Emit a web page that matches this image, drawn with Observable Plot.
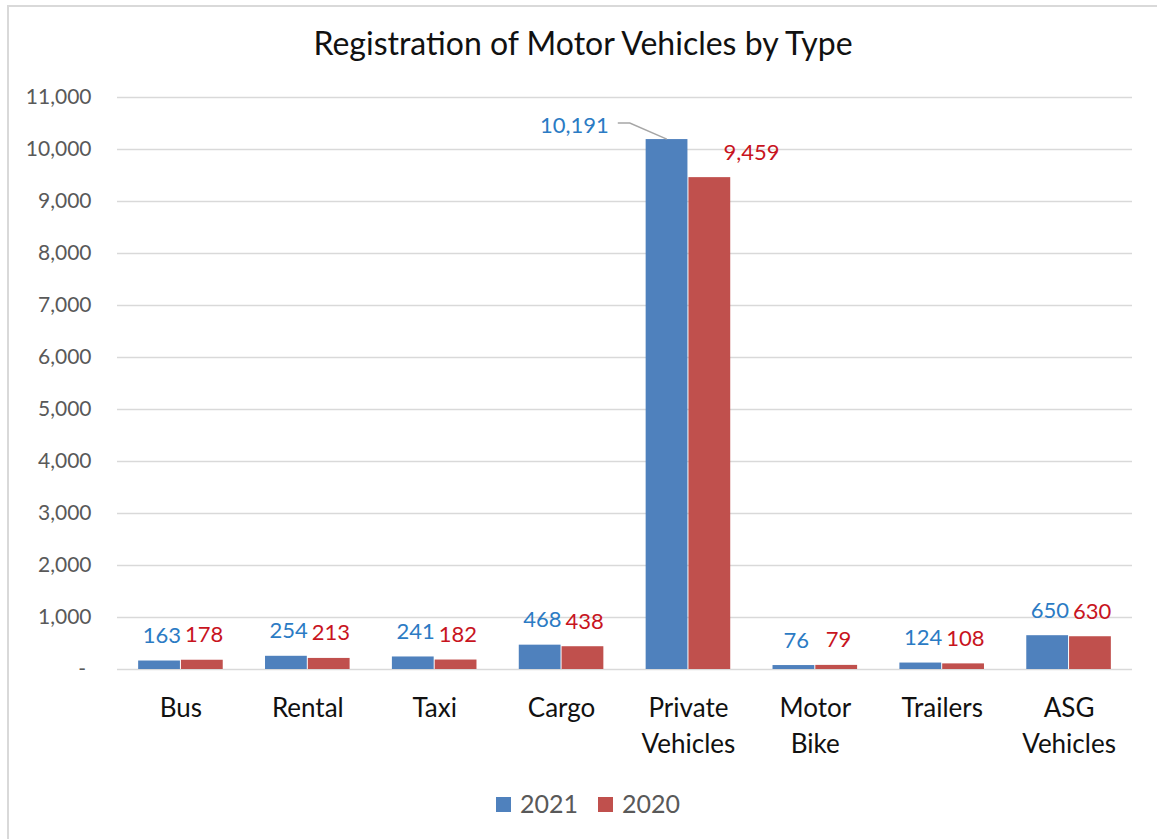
<!DOCTYPE html>
<html>
<head>
<meta charset="utf-8">
<script src="https://cdn.jsdelivr.net/npm/d3@7"></script>
<script src="https://cdn.jsdelivr.net/npm/@observablehq/plot@0.6"></script>
<style>
  html, body { margin: 0; padding: 0; background: #fff; }
  body { width: 1157px; height: 839px; position: relative; overflow: hidden; font-family: Lato, "Open Sans", sans-serif; }
  #frame { position: absolute; left: 7px; top: 5px; width: 1160px; height: 850px; border: 2px solid #d9d9d9; box-sizing: border-box; }
  #title { position: absolute; left: 0; width: 1166px; top: 24px; text-align: center; font-size: 32px; line-height: 38px; color: #111; }
  #chart { position: absolute; left: 0; top: 0; }
  #legend { position: absolute; top: 788px; left: 0; width: 1176px; text-align: center; font-size: 25px; color: #595959; }
  #legend span.sw { display: inline-block; width: 15px; height: 15px; vertical-align: middle; margin-right: 9px; position: relative; top: -2px; }
  #legend span.item { margin: 0 10px; }
</style>
</head>
<body>
<div id="frame"></div>
<div id="title">Registration of Motor Vehicles by Type</div>
<div id="chart"></div>
<div id="legend"></div>
<script>
const categories = ["Bus", "Rental", "Taxi", "Cargo", "Private Vehicles", "Motor Bike", "Trailers", "ASG Vehicles"];
const categoryLabels = ["Bus", "Rental", "Taxi", "Cargo", "Private\nVehicles", "Motor\nBike", "Trailers", "ASG\nVehicles"];
const series = ["2021", "2020"];
const values2021 = [163, 254, 241, 468, 10191, 76, 124, 650];
const values2020 = [178, 213, 182, 438, 9459, 79, 108, 630];
const yTicks = [0, 1000, 2000, 3000, 4000, 5000, 6000, 7000, 8000, 9000, 10000, 11000];

const barColors = {"2021": "#4f81bd", "2020": "#c0504d"};
const labelColors = {"2021": "#2b7bc4", "2020": "#c8141e"};

const rows = [];
categories.forEach((c, i) => {
  rows.push({category: c, year: "2021", value: values2021[i]});
  rows.push({category: c, year: "2020", value: values2020[i]});
});
const labelOf = new Map(categories.map((c, i) => [c, categoryLabels[i]]));

const width = 1157, height = 780;
const mL = 117, mR = 25, mT = 97, mB = 111;
const step = (width - mL - mR) / categories.length;
const bw = step * 2 / 3;
const half = bw / 2;
const fmt = d3.format(",");
const special = "Private Vehicles";

const normal = rows.filter(d => d.category !== special);
const specialRows = rows.filter(d => d.category === special);

const chart = Plot.plot({
  width, height,
  marginLeft: mL, marginRight: mR, marginTop: mT, marginBottom: mB,
  style: {fontFamily: "Lato, 'Open Sans', sans-serif", background: "transparent", overflow: "visible"},
  x: {domain: categories, paddingInner: 1/3, paddingOuter: 1/6, round: false, label: null},
  y: {domain: [0, 11000], label: null},
  marks: [
    Plot.ruleY(yTicks, {stroke: "#d9d9d9", strokeWidth: 1.5}),
    Plot.barY(rows.filter(d => d.year === "2021"), {x: "category", y: "value", fill: barColors["2021"], insetRight: half + 0.5, insetLeft: 0}),
    Plot.barY(rows.filter(d => d.year === "2020"), {x: "category", y: "value", fill: barColors["2020"], insetLeft: half + 0.5, insetRight: 0}),
    Plot.text(normal.filter(d => d.year === "2021"), {x: "category", y: "value", text: d => fmt(d.value), dx: -half / 2 + 2, dy: -25, fill: labelColors["2021"], fontSize: 22}),
    Plot.text(normal.filter(d => d.year === "2020"), {x: "category", y: "value", text: d => fmt(d.value), dx: half / 2 + 2, dy: -25, fill: labelColors["2020"], fontSize: 22}),
    Plot.text(specialRows.filter(d => d.year === "2021"), {x: "category", y: "value", text: d => fmt(d.value), dx: -114, dy: -14, fill: labelColors["2021"], fontSize: 22}),
    Plot.text(specialRows.filter(d => d.year === "2020"), {x: "category", y: "value", text: d => fmt(d.value), dx: 63, dy: -25, fill: labelColors["2020"], fontSize: 22}),
    Plot.axisY({ticks: yTicks, tickSize: 0, tickPadding: 26, tickFormat: d => d === 0 ? "-\u00a0" : fmt(d), fontSize: 21, fill: "#595959", label: null}),
    Plot.axisX({tickSize: 0, tickPadding: 23, tickFormat: d => labelOf.get(d), fontSize: 26, fill: "#111", lineHeight: 1.35, label: null})
  ]
});
document.getElementById("chart").append(chart);

// leader line for the offset 2021 label, positioned with the plot's scales
const xs = chart.scale("x"), ys = chart.scale("y");
const bx = xs.apply(special) + xs.bandwidth / 4;
const by = ys.apply(values2021[categories.indexOf(special)]);
d3.select(chart).append("path")
  .attr("d", `M${bx},${by}L${bx - 37},${by - 16}L${bx - 49},${by - 16}`)
  .attr("fill", "none").attr("stroke", "#a6a6a6").attr("stroke-width", 1.5);

const legend = document.getElementById("legend");
series.forEach(s => {
  const item = document.createElement("span");
  item.className = "item";
  item.innerHTML = `<span class="sw" style="background:${barColors[s]}"></span>${s}`;
  legend.append(item);
});
</script>
</body>
</html>
